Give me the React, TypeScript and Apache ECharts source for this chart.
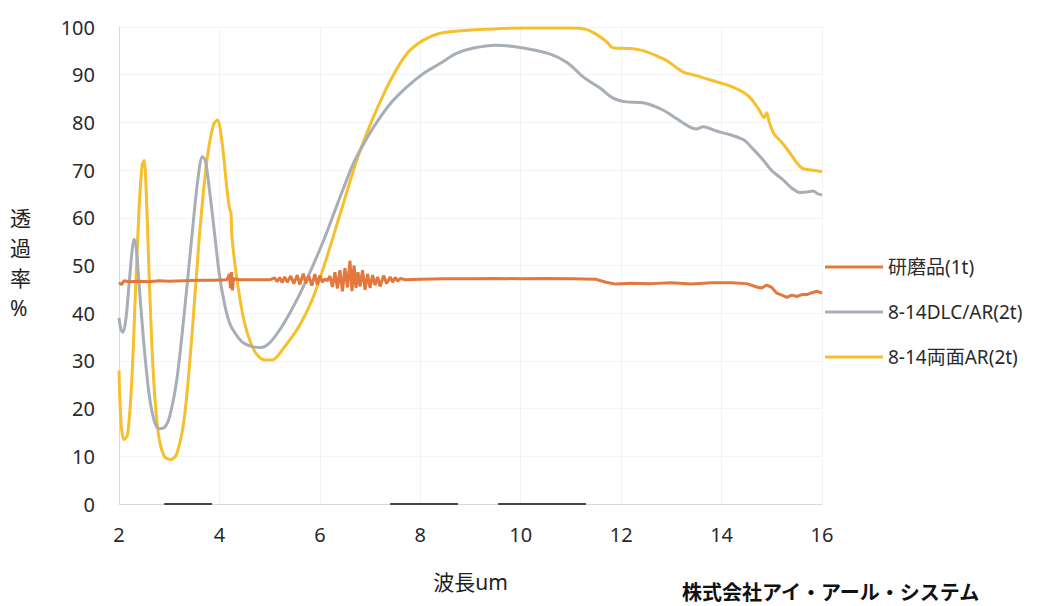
import React, { useEffect, useRef } from "react";
import * as echarts from "echarts";

const seriesNames = ["研磨品(1t)", "8-14DLC/AR(2t)", "8-14両面AR(2t)"];
const xTicks = [2, 4, 6, 8, 10, 12, 14, 16];

const polished: [number, number][] = [
  [2.0, 46.4], [2.05, 46.0], [2.1, 46.8], [2.2, 46.6], [2.4, 46.7], [2.6, 46.6], [2.8, 46.8], [3.0, 46.7],
  [3.3, 46.8], [3.6, 46.9], [3.9, 46.9], [4.15, 47.0], [4.2, 48.2], [4.22, 45.2], [4.24, 48.6], [4.26, 44.8],
  [4.28, 47.2], [4.4, 47.0], [4.7, 47.0], [5.0, 47.0], [5.1, 47.4], [5.15, 46.6], [5.2, 47.5], [5.25, 46.4],
  [5.3, 47.6], [5.35, 46.5], [5.42, 47.8], [5.48, 46.2], [5.55, 48.0], [5.6, 46.0], [5.67, 48.3], [5.72, 46.3],
  [5.78, 47.8], [5.84, 45.8], [5.9, 48.2], [5.95, 46.0], [6.0, 47.9], [6.05, 46.5], [6.1, 47.2], [6.15, 46.8],
  [6.2, 47.8], [6.25, 45.5], [6.3, 48.6], [6.35, 45.2], [6.4, 49.0], [6.45, 44.6], [6.5, 49.5], [6.55, 45.4],
  [6.6, 51.0], [6.64, 44.6], [6.68, 50.0], [6.72, 45.3], [6.76, 48.6], [6.8, 45.6], [6.85, 49.0], [6.9, 44.9],
  [6.95, 48.2], [7.0, 45.3], [7.05, 48.0], [7.1, 45.9], [7.15, 47.6], [7.2, 45.6], [7.27, 47.9], [7.33, 46.2],
  [7.4, 47.6], [7.45, 46.5], [7.5, 47.5], [7.55, 46.7], [7.6, 47.3], [7.7, 47.0], [8.0, 47.1], [8.5, 47.2],
  [9.0, 47.2], [9.5, 47.3], [10.0, 47.2], [10.5, 47.3], [11.0, 47.2], [11.5, 47.1], [11.7, 46.5], [11.9, 46.1],
  [12.2, 46.3], [12.6, 46.2], [13.0, 46.4], [13.4, 46.1], [13.8, 46.4], [14.2, 46.4], [14.5, 46.2], [14.7, 45.5],
  [14.8, 45.3], [14.9, 45.9], [15.0, 45.4], [15.1, 44.2], [15.2, 43.8], [15.3, 43.3], [15.4, 43.8], [15.5, 43.5],
  [15.6, 43.9], [15.7, 43.9], [15.8, 44.3], [15.9, 44.6], [16.0, 44.2],
];

const dlcAr: [number, number][] = [
  [2.0, 39], [2.04, 36.5], [2.08, 36], [2.14, 39], [2.2, 46], [2.26, 53], [2.3, 55.5], [2.34, 54], [2.4, 46],
  [2.5, 33], [2.6, 23], [2.7, 17.5], [2.8, 15.8], [2.9, 16], [3.0, 18], [3.15, 26], [3.3, 40], [3.45, 56],
  [3.57, 68], [3.66, 72.8], [3.72, 72], [3.8, 66], [3.9, 57], [4.0, 48], [4.1, 42], [4.2, 38], [4.3, 36],
  [4.45, 34], [4.65, 33], [4.82, 32.8], [5.0, 33.8], [5.2, 36.5], [5.4, 40], [5.6, 44], [5.8, 48.5],
  [6.08, 55.4], [6.3, 61.5], [6.5, 67], [6.65, 71], [6.81, 74.3], [7.07, 79], [7.41, 84], [7.74, 87.5],
  [8.07, 90.3], [8.4, 92.4], [8.73, 94.5], [9.06, 95.6], [9.5, 96.2], [10.05, 95.6], [10.59, 94.3],
  [10.93, 92.5], [11.25, 89.5], [11.58, 87.2], [11.84, 85.1], [12.1, 84.3], [12.44, 84.1], [12.83, 82.6],
  [13.1, 80.8], [13.37, 79], [13.5, 78.6], [13.63, 79.1], [13.9, 78.2], [14.17, 77.4], [14.43, 76.4],
  [14.62, 74.5], [14.82, 72.2], [15.0, 69.9], [15.22, 68], [15.4, 66.2], [15.56, 65.3], [15.7, 65.4],
  [15.82, 65.6], [15.92, 65], [16.0, 64.8],
];

const doubleAr: [number, number][] = [
  [2.0, 28], [2.04, 17], [2.1, 13.5], [2.17, 14.5], [2.25, 25], [2.33, 45], [2.4, 62], [2.46, 71], [2.5, 72],
  [2.54, 66], [2.6, 48], [2.68, 28], [2.78, 15], [2.9, 10], [3.03, 9.3], [3.15, 10.5], [3.3, 18], [3.45, 35],
  [3.6, 56], [3.75, 72], [3.88, 79.5], [3.96, 80.5], [4.05, 76], [4.15, 66], [4.2, 62], [4.23, 61],
  [4.25, 56], [4.35, 47], [4.5, 38], [4.7, 32], [4.9, 30.2], [5.05, 30.2], [5.3, 33], [5.6, 37.5],
  [5.85, 42.9], [6.08, 49.8], [6.41, 61], [6.74, 72.2], [7.07, 81.2], [7.41, 88.9], [7.74, 94.5],
  [8.07, 97.3], [8.4, 98.7], [9.06, 99.4], [10.05, 99.8], [11.0, 99.8], [11.3, 99.5], [11.5, 98.5],
  [11.7, 97], [11.85, 95.6], [12.2, 95.5], [12.45, 95], [12.7, 94], [12.9, 93], [13.1, 91.5], [13.25, 90.5],
  [13.5, 89.8], [13.9, 88.5], [14.2, 87.5], [14.45, 86.2], [14.6, 84.8], [14.75, 82.6], [14.85, 81],
  [14.9, 82], [14.95, 80], [15.05, 77.5], [15.2, 75.8], [15.36, 73.6], [15.5, 71.5], [15.62, 70.3],
  [15.8, 70], [16.0, 69.7],
];

// dark marks lying on the baseline in the scanned original
const baselineMarks: [number, number | string][] = [
  [2.9, 0], [3.85, 0], [5, "-"], [7.4, 0], [8.75, 0], [9.1, "-"], [9.55, 0], [11.3, 0],
];

const colors = ["#E2783E", "#A7AEB6", "#F6BF2C"];
const font = "'Noto Sans', 'Noto Sans CJK JP', sans-serif";

export default function App() {
  const ref = useRef<HTMLDivElement>(null);
  useEffect(() => {
    if (!ref.current) return;
    const chart = echarts.init(ref.current, undefined, { renderer: "svg" });
    chart.setOption({
      animation: false,
      backgroundColor: "#ffffff",
      grid: { left: 119, right: 217, top: 27, bottom: 102, containLabel: false },
      legend: {
        data: seriesNames,
        orient: "vertical",
        left: 820,
        top: 251,
        itemWidth: 58,
        itemHeight: 3,
        itemGap: 23,
        icon: "rect",
        textStyle: { fontSize: 19, color: "#2a2a2a", fontFamily: font, lineHeight: 22 },
      },
      xAxis: {
        type: "value",
        min: xTicks[0],
        max: xTicks[xTicks.length - 1],
        interval: 2,
        name: "波長um",
        nameLocation: "middle",
        nameGap: 67,
        nameTextStyle: { fontSize: 21, color: "#222", fontFamily: font },
        axisLine: { show: true, lineStyle: { color: "#d9d9d9", width: 1 } },
        axisTick: { show: false },
        axisLabel: { fontSize: 20, color: "#2a2a2a", margin: 20, fontFamily: font },
        splitLine: { show: true, lineStyle: { color: "#f3f3f3" } },
      },
      yAxis: {
        type: "value",
        min: 0,
        max: 100,
        interval: 10,
        axisLine: { show: true, lineStyle: { color: "#d9d9d9", width: 1 } },
        axisTick: { show: false },
        axisLabel: { fontSize: 20, color: "#2a2a2a", margin: 24, fontFamily: font },
        splitLine: { show: true, lineStyle: { color: "#f3f3f3" } },
      },
      graphic: [
        {
          type: "text",
          left: 10,
          top: 203,
          style: {
            text: "透\n過\n率\n%",
            fontSize: 21,
            lineHeight: 30,
            fill: "#222",
            align: "center",
            fontFamily: font,
          },
        },
        {
          type: "text",
          left: 682,
          top: 581,
          style: {
            text: "株式会社アイ・アール・システム",
            fontSize: 20,
            fontWeight: "bold",
            fill: "#111",
            fontFamily: "'Noto Sans CJK JP', sans-serif",
          },
        },
      ],
      series: [
        {
          name: seriesNames[0],
          type: "line",
          data: polished,
          symbol: "none",
          lineStyle: { color: colors[0], width: 3 },
          itemStyle: { color: colors[0] },
          z: 4,
        },
        {
          name: seriesNames[1],
          type: "line",
          data: dlcAr,
          symbol: "none",
          smooth: 0.3,
          lineStyle: { color: colors[1], width: 3 },
          itemStyle: { color: colors[1] },
          z: 3,
        },
        {
          name: seriesNames[2],
          type: "line",
          data: doubleAr,
          symbol: "none",
          smooth: 0.3,
          lineStyle: { color: colors[2], width: 3 },
          itemStyle: { color: colors[2] },
          z: 2,
        },
        {
          name: "baseline",
          type: "line",
          data: baselineMarks,
          symbol: "none",
          connectNulls: false,
          lineStyle: { color: "#444", width: 2 },
          z: 5,
        },
      ],
    });
    return () => chart.dispose();
  }, []);
  return (
    <div
      ref={ref}
      style={{ position: "fixed", left: 0, top: 0, width: 1039, height: 606, background: "#fff" }}
    />
  );
}
